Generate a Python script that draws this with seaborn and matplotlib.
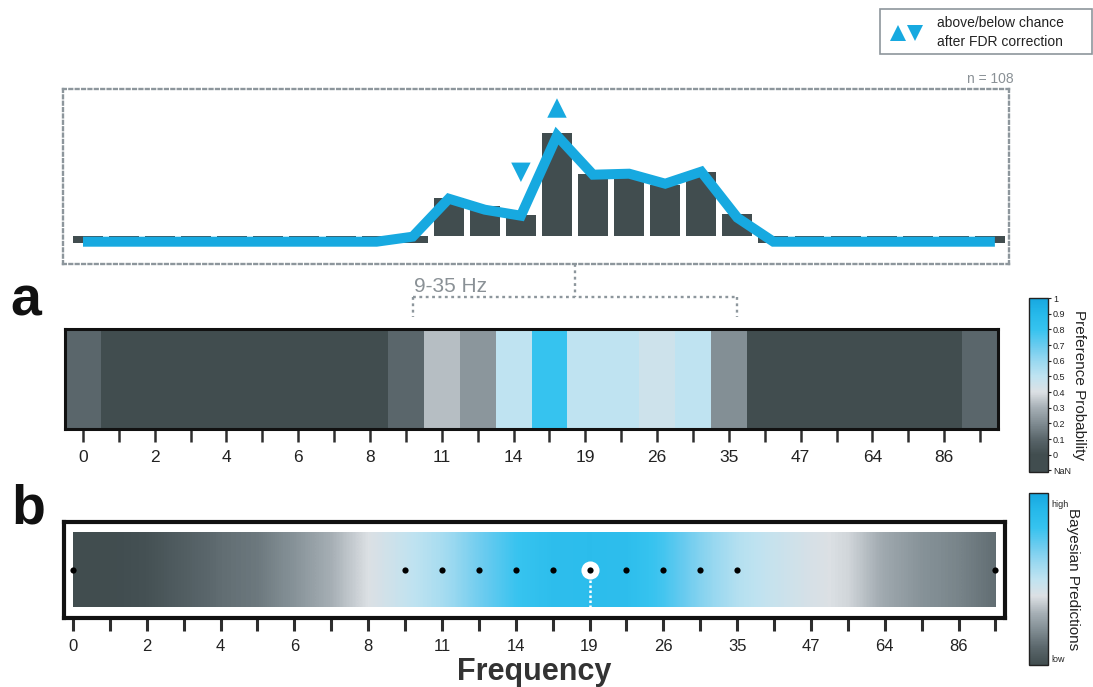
import numpy as np
import pandas as pd
import matplotlib
matplotlib.use("Agg")
import matplotlib.pyplot as plt
import matplotlib.transforms as mtransforms
from matplotlib.colors import LinearSegmentedColormap, Normalize
from matplotlib.cm import ScalarMappable
from matplotlib.lines import Line2D
from matplotlib.patches import Rectangle
import seaborn as sns

# ------------------------------------------------------------------ data
bin_index = list(range(26))
freq_labels = ["0", "", "2", "", "4", "", "6", "", "8", "", "11", "", "14", "",
               "19", "", "26", "", "35", "", "47", "", "64", "", "86", ""]

# top panel: observed preference (bars) and model fit (line), relative to chance
pref_bars = [-0.07, -0.07, -0.07, -0.07, -0.07, -0.07, -0.07, -0.07, -0.07, -0.07,
             0.38, 0.30, 0.21, 1.03, 0.62, 0.58, 0.51, 0.64, 0.22,
             -0.07, -0.07, -0.07, -0.07, -0.07, -0.07, -0.07]
model_line = [-0.06, -0.06, -0.06, -0.06, -0.06, -0.06, -0.06, -0.06, -0.06, -0.01,
              0.37, 0.26, 0.20, 1.00, 0.61, 0.62, 0.52, 0.64, 0.18,
              -0.06, -0.06, -0.06, -0.06, -0.06, -0.06, -0.06]
sig_bins = [13, 12]
sig_dir = ["above", "below"]
sig_y = [1.277, 0.634]
n_subjects = 108
band_bins = [9, 18]
band_label = "9-35 Hz"

# panel a: preference probability per frequency bin
pref_prob = [0.10, 0.00, 0.00, 0.00, 0.00, 0.00, 0.00, 0.00, 0.00, 0.10,
             0.33, 0.23, 0.50, 0.80, 0.50, 0.50, 0.45, 0.50, 0.21,
             0.00, 0.00, 0.00, 0.00, 0.00, 0.00, 0.10]

# panel b: Bayesian predictions per frequency bin
bayes_pred = [0.00, 0.00, 0.02, 0.07, 0.12, 0.15, 0.22, 0.30, 0.40, 0.48,
              0.56, 0.68, 0.79, 0.85, 0.86, 0.85, 0.77, 0.64, 0.53,
              0.47, 0.42, 0.38, 0.28, 0.22, 0.18, 0.12]
bayes_dots = [0, 9, 10, 11, 12, 13, 14, 15, 16, 17, 18, 25]
bayes_best = 14

# colour map stops (value, colour)
cm_values = [0.0, 0.1, 0.2, 0.3, 0.4, 0.5, 0.6, 0.7, 0.8, 0.9, 1.0]
cm_colors = ["#414d4f", "#5a666b", "#808c92", "#a6afb5", "#dce0e4", "#bfe3f1",
             "#98d8f0", "#68cbef", "#36c3ef", "#26b9ea", "#17a7e0"]
nan_floor = -0.11

DARK = "#414d4f"
BLUE = "#17a9e0"
GREY = "#8d969c"
TXTGREY = "#8a9196"

# ------------------------------------------------------------------ style
sns.set_theme(style="white")
plt.rcParams["font.family"] = ["Liberation Sans", "DejaVu Sans"]

W, H = 1093, 687
fig = plt.figure(figsize=(W / 100, H / 100), dpi=100)


def px_axes(x0, y0, x1, y1):
    return fig.add_axes([x0 / W, 1 - y1 / H, (x1 - x0) / W, (y1 - y0) / H])


cmap_b = LinearSegmentedColormap.from_list("bayes", list(zip(cm_values, cm_colors)))
span = 1.0 - nan_floor
cmap_a = LinearSegmentedColormap.from_list(
    "pref",
    [(0.0, cm_colors[0])] + [((v - nan_floor) / span, c) for v, c in zip(cm_values, cm_colors)],
)

# ------------------------------------------------------------------ top panel
ax_t = px_axes(62.5, 89.3, 1009, 263.5)
df_top = pd.DataFrame({"bin": bin_index, "pref": pref_bars, "model": model_line})
sns.barplot(data=df_top, x="bin", y="pref", color=DARK, saturation=1, width=0.83,
            linewidth=0, ax=ax_t, errorbar=None)
sns.lineplot(data=df_top, x="bin", y="model", color=BLUE, linewidth=7.2, ax=ax_t,
             solid_joinstyle="miter", solid_capstyle="projecting")
df_sig = pd.DataFrame({"bin": sig_bins, "y": sig_y, "dir": sig_dir})
sns.scatterplot(data=df_sig, x="bin", y="y", style="dir", markers={"above": "^", "below": "v"},
                color=BLUE, s=196, linewidth=0, legend=False, ax=ax_t)
ax_t.set_xlim(-0.707, 25.53)
ax_t.set_ylim(-0.278, 1.464)
ax_t.set_xticks([])
ax_t.set_yticks([])
ax_t.set_xlabel("")
ax_t.set_ylabel("")
for sp in ax_t.spines.values():
    sp.set_visible(True)
    sp.set_linestyle((0, (1.2, 1.5)))
    sp.set_linewidth(1.7)
    sp.set_edgecolor(GREY)
ax_t.text(1.005, 1.036, f"n = {n_subjects}", transform=ax_t.transAxes, ha="right",
          va="baseline", fontsize=10, color=TXTGREY)

# bracket 9-35 Hz
trans = mtransforms.blended_transform_factory(ax_t.transData, ax_t.transAxes)
mid = (band_bins[0] + band_bins[1]) / 2
bk = dict(color=GREY, lw=1.7, ls=(0, (1.2, 1.5)), transform=trans, clip_on=False)
ax_t.plot([mid, mid], [0, -0.192], **bk)
ax_t.plot([band_bins[0], band_bins[1]], [-0.192, -0.192], **bk)
ax_t.plot([band_bins[0], band_bins[0]], [-0.192, -0.307], **bk)
ax_t.plot([band_bins[1], band_bins[1]], [-0.192, -0.307], **bk)
ax_t.text(band_bins[0] + 0.05, -0.164, band_label, transform=trans, ha="left",
          va="baseline", fontsize=15, color=TXTGREY)

# ------------------------------------------------------------------ panel a
ax_a = px_axes(65, 328.5, 998, 428.5)
cax_a = px_axes(1028.5, 298, 1047.5, 472)
sns.heatmap(np.array([pref_prob]), cmap=cmap_a, vmin=nan_floor, vmax=1.0, ax=ax_a,
            cbar_ax=cax_a, xticklabels=freq_labels, yticklabels=False)
for sp in ax_a.spines.values():
    sp.set_visible(True)
    sp.set_linewidth(2.2)
    sp.set_edgecolor("#111111")
ax_a.tick_params(axis="x", bottom=True, length=9.5, width=1.8, color="#2e2e2e", pad=6,
                 labelsize=12.5, labelcolor="#222222", labelrotation=0)
ax_a.tick_params(axis="y", left=False)
cb_a = ax_a.collections[0].colorbar
cb_ticks = [-0.1, 0.0, 0.1, 0.2, 0.3, 0.4, 0.5, 0.6, 0.7, 0.8, 0.9, 1.0]
cb_labels = ["NaN", "0", "0.1", "0.2", "0.3", "0.4", "0.5", "0.6", "0.7", "0.8", "0.9", "1"]
cb_a.set_ticks(cb_ticks)
cb_a.set_ticklabels(cb_labels)
cb_a.ax.tick_params(labelsize=6.5, length=2.5, width=0.8, color="#222222", pad=1.5,
                    right=True, labelcolor="#222222")
cb_a.outline.set_linewidth(1.0)
cb_a.outline.set_edgecolor("#222222")
cax_a.text(2.66, 0.5, "Preference Probability", transform=cax_a.transAxes, rotation=-90,
           ha="center", va="center", fontsize=11, color="#222222")

# ------------------------------------------------------------------ panel b
ax_b = px_axes(64, 522, 1005, 617.5)
cax_b = px_axes(1028.5, 493, 1047.5, 665)
grad_lo, grad_hi = 0.11, 0.895
im = ax_b.imshow(np.array([bayes_pred]), cmap=cmap_b, vmin=0, vmax=1, aspect="auto",
                 interpolation="bilinear", interpolation_stage="data",
                 extent=(-0.5, 25.5, grad_lo, grad_hi))
im.set_clip_path(Rectangle((0, grad_lo), 25, grad_hi - grad_lo, transform=ax_b.transData))
ax_b.plot([bayes_best, bayes_best], [0.5, grad_lo], color="white", lw=1.8,
          ls=(0, (1.0, 1.0)), zorder=3)
ax_b.scatter([bayes_best], [0.5], s=170, color="white", linewidth=0, zorder=4)
sns.scatterplot(x=bayes_dots, y=[0.5] * len(bayes_dots), color="black", s=20, linewidth=0,
                ax=ax_b, zorder=5, legend=False)
ax_b.set_xlim(-0.244, 25.26)
ax_b.set_ylim(0, 1)
ax_b.set_xticks(bin_index)
ax_b.set_xticklabels(freq_labels)
ax_b.set_yticks([])
for sp in ax_b.spines.values():
    sp.set_visible(True)
    sp.set_linewidth(3)
    sp.set_edgecolor("#111111")
ax_b.tick_params(axis="x", bottom=True, length=9.5, width=2.2, color="#2e2e2e", pad=6,
                 labelsize=12, labelcolor="#222222")
ax_b.set_xlabel("Frequency", fontsize=22, fontweight="bold", color="#333333", labelpad=2)

cb_b = fig.colorbar(ScalarMappable(norm=Normalize(0, 1), cmap=cmap_b), cax=cax_b,
                    ticks=[0.04, 0.94])
cb_b.set_ticklabels(["low", "high"])
cb_b.ax.tick_params(labelsize=6.5, length=0, pad=2.5, labelcolor="#222222")
cb_b.outline.set_linewidth(1.0)
cb_b.outline.set_edgecolor("#222222")
cax_b.text(2.34, 0.5, "Bayesian Predictions", transform=cax_b.transAxes, rotation=-90,
           ha="center", va="center", fontsize=11, color="#222222")

# ------------------------------------------------------------------ panel letters
fig.text(10 / W, 1 - 315 / H, "a", fontsize=40, fontweight="bold", va="baseline", color="#111111")
fig.text(11 / W, 1 - 523 / H, "b", fontsize=40, fontweight="bold", va="baseline", color="#111111")

# ------------------------------------------------------------------ legend box
fig.add_artist(Rectangle((880 / W, 1 - 54 / H), (1092 - 880) / W, 45 / H,
                         transform=fig.transFigure, fill=False, edgecolor=GREY, lw=1.2))
fig.add_artist(Line2D([897.5 / W], [1 - 33 / H], marker="^", ms=11, color=BLUE, ls="none",
                      markeredgewidth=0, transform=fig.transFigure))
fig.add_artist(Line2D([915 / W], [1 - 33 / H], marker="v", ms=11, color=BLUE, ls="none",
                      markeredgewidth=0, transform=fig.transFigure))
fig.text(937 / W, 1 - 23 / H, "above/below chance", fontsize=10, va="center", color="#222222")
fig.text(937 / W, 1 - 42 / H, "after FDR correction", fontsize=10, va="center", color="#222222")

fig.savefig("out.png", dpi=100)
